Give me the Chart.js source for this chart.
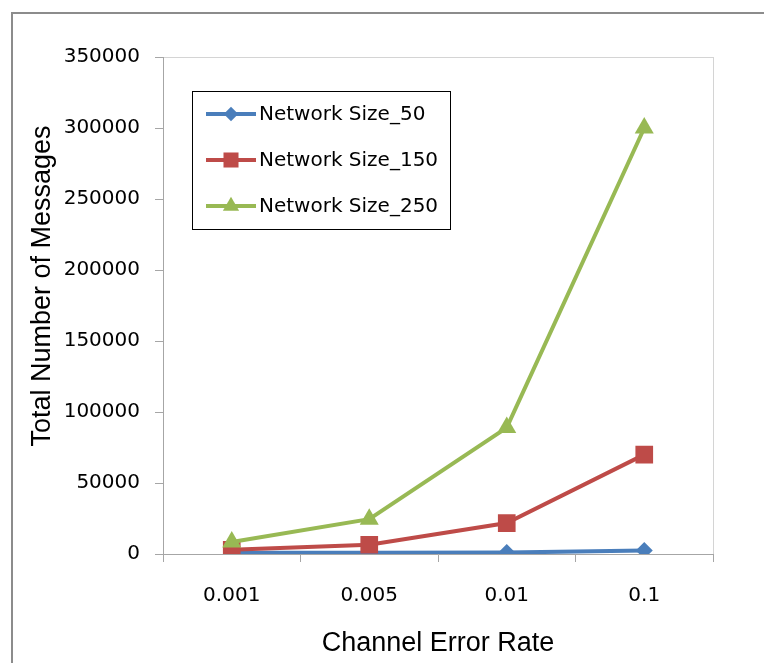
<!DOCTYPE html>
<html>
<head>
<meta charset="utf-8">
<script src="https://cdn.jsdelivr.net/npm/chart.js@4/dist/chart.umd.min.js"></script>
<style>
html, body { margin: 0; padding: 0; background: #fff; }
canvas { display: block; }
</style>
</head>
<body>
<canvas id="chart" width="764" height="663"></canvas>
<script>
const categories = ["0.001", "0.005", "0.01", "0.1"];
const size50 = [800, 900, 1000, 2500];
const size150 = [3000, 6500, 21800, 70000];
const size250 = [8500, 24500, 89000, 300000];
const yTicks = [0, 50000, 100000, 150000, 200000, 250000, 300000, 350000];
const seriesNames = ["Network Size_50", "Network Size_150", "Network Size_250"];
const xTitle = "Channel Error Rate";
const yTitle = "Total Number of Messages";

const axisGray = "#a6a6a6";

// frame, plot border and rotated y title
const framePlugin = {
    id: "frame",
    beforeDraw(chart) {
        const ctx = chart.ctx;
        const a = chart.chartArea;
        ctx.save();
        ctx.fillStyle = "#fff";
        ctx.fillRect(0, 0, chart.width, chart.height);
        ctx.strokeStyle = "#8c8c8c";
        ctx.lineWidth = 2;
        ctx.beginPath();
        ctx.moveTo(12, chart.height);
        ctx.lineTo(12, 13);
        ctx.lineTo(chart.width, 13);
        ctx.stroke();
        ctx.strokeStyle = "#d4d4d4";
        ctx.lineWidth = 1;
        ctx.strokeRect(a.left + 0.5, a.top + 0.5, a.right - a.left, a.bottom - a.top);
        ctx.fillStyle = "#000";
        ctx.font = "27px 'Liberation Sans'";
        ctx.textAlign = "center";
        ctx.textBaseline = "middle";
        ctx.translate(42.5, 286);
        ctx.rotate(-Math.PI / 2);
        ctx.fillText(yTitle, 0, 0);
        ctx.restore();
    }
};

// legend box inside the plot, like the original
const legendPlugin = {
    id: "legendBox",
    afterDatasetsDraw(chart) {
        const ctx = chart.ctx;
        ctx.save();
        ctx.fillStyle = "#fff";
        ctx.fillRect(192.5, 91.5, 258, 138);
        ctx.strokeStyle = "#000";
        ctx.lineWidth = 1;
        ctx.strokeRect(192.5, 91.5, 258, 138);
        chart.data.datasets.forEach((ds, i) => {
            const y = 114 + i * 46;
            ctx.strokeStyle = ds.borderColor;
            ctx.lineWidth = 4;
            ctx.beginPath();
            ctx.moveTo(206, y);
            ctx.lineTo(256, y);
            ctx.stroke();
            ctx.fillStyle = ds.backgroundColor;
            ctx.strokeStyle = ds.backgroundColor;
            if (Chart.helpers && Chart.helpers.drawPoint) {
                Chart.helpers.drawPoint(ctx, {
                    pointStyle: ds.pointStyle,
                    radius: ds.pointRadius * 0.85,
                    rotation: 0,
                    borderWidth: 0
                }, 231, y);
            }
            ctx.fillStyle = "#000";
            ctx.font = "20px 'DejaVu Sans'";
            ctx.textAlign = "left";
            ctx.textBaseline = "middle";
            ctx.fillText(ds.label, 259, y + 1);
        });
        ctx.restore();
    }
};

function makeSeries(label, data, color, style, radius, order) {
    return {
        label: label,
        data: data,
        borderColor: color,
        backgroundColor: color,
        borderWidth: 4,
        pointStyle: style,
        pointRadius: radius,
        pointHoverRadius: radius,
        pointBorderWidth: 0,
        tension: 0,
        order: order
    };
}

Chart.defaults.font.family = "'DejaVu Sans'";
Chart.defaults.font.size = 20;
Chart.defaults.color = "#000";

new Chart(document.getElementById("chart"), {
    type: "line",
    data: {
        labels: categories,
        datasets: [
            makeSeries(seriesNames[0], size50, "#4a7ebb", "rectRot", 8.5, 3),
            makeSeries(seriesNames[1], size150, "#be4b48", "rect", 12.5, 2),
            makeSeries(seriesNames[2], size250, "#98b954", "triangle", 11, 1)
        ]
    },
    options: {
        responsive: false,
        devicePixelRatio: 1,
        animation: false,
        layout: { padding: { top: 57, right: 51, left: 0, bottom: 0 } },
        plugins: {
            legend: { display: false },
            tooltip: { enabled: false }
        },
        scales: {
            x: {
                offset: true,
                grid: {
                    offset: true,
                    drawOnChartArea: false,
                    drawTicks: true,
                    tickLength: 8,
                    color: axisGray
                },
                border: { display: true, color: axisGray },
                ticks: { padding: 22, maxRotation: 0 },
                title: {
                    display: true,
                    text: xTitle,
                    font: { family: "'Liberation Sans'", size: 27 },
                    padding: { top: 0, bottom: 3 }
                },
                afterFit(scale) { scale.height = 109; }
            },
            y: {
                min: yTicks[0],
                max: yTicks[yTicks.length - 1],
                grid: {
                    drawOnChartArea: false,
                    drawTicks: true,
                    tickLength: 8,
                    color: axisGray
                },
                border: { display: true, color: axisGray },
                ticks: {
                    padding: 15,
                    callback: (value) => String(value)
                },
                afterBuildTicks(scale) {
                    scale.ticks = yTicks.map((v) => ({ value: v }));
                },
                afterFit(scale) { scale.width = 163; }
            }
        }
    },
    plugins: [framePlugin, legendPlugin]
});
</script>
</body>
</html>
